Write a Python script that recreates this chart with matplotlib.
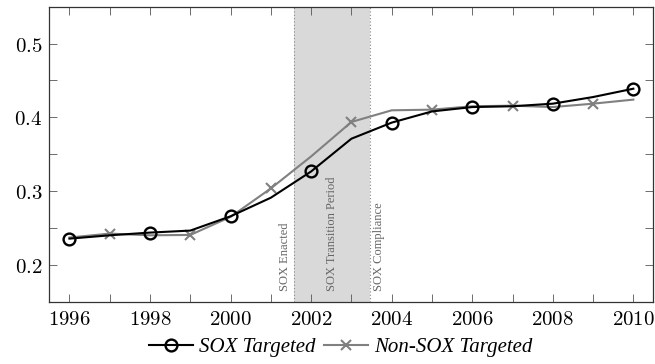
import matplotlib
matplotlib.use("Agg")
import matplotlib.pyplot as plt
from matplotlib.ticker import MultipleLocator, FuncFormatter

years = [1996, 1997, 1998, 1999, 2000, 2001, 2002, 2003, 2004, 2005, 2006, 2007, 2008, 2009, 2010]
sox_targeted = [0.2355, 0.240, 0.2437, 0.2464, 0.2658, 0.291, 0.3266, 0.371, 0.3928, 0.408, 0.4139, 0.415, 0.4185, 0.4275, 0.4388]
non_sox_targeted = [0.237, 0.2423, 0.240, 0.2405, 0.265, 0.3036, 0.347, 0.3937, 0.4095, 0.4104, 0.415, 0.4158, 0.4139, 0.4185, 0.424]
period_start = 2001.58
period_end = 2003.46
labels = ["SOX Enacted", "SOX Transition Period", "SOX Compliance"]

plt.rcParams['mathtext.fontset'] = 'cm'
serif = ['Liberation Serif', 'DejaVu Serif']

fig = plt.figure(figsize=(6.55, 3.64), dpi=100)
ax = fig.add_axes([0.0753, 0.1712, 0.9977 - 0.0753, 0.9816 - 0.1712])

ax.axvspan(period_start, period_end, color='#d9d9d9', lw=0, zorder=0)
ax.axvline(period_start, color='#888888', lw=0.8, ls=(0, (1, 2)), zorder=1)
ax.axvline(period_end, color='#888888', lw=0.8, ls=(0, (1, 2)), zorder=1)

even_idx = [i for i, y in enumerate(years) if y % 2 == 0]
odd_idx = [i for i, y in enumerate(years) if y % 2 == 1]

ax.plot(years, non_sox_targeted, color='#808080', lw=1.5, marker='x',
        markevery=odd_idx, markersize=7, mew=1.5, zorder=3, label='Non-SOX Targeted')
ax.plot(years, sox_targeted, color='black', lw=1.5, marker='o',
        markevery=even_idx, markersize=8.5, mew=1.7, mfc='none', zorder=4, label='SOX Targeted')

ty = 0.165
tc = '#666666'
ax.text(period_start - 0.08, ty, labels[0], rotation=90, ha='right', va='bottom',
        fontsize=9, color=tc, family=serif)
ax.text((period_start + period_end) / 2, ty, labels[1], rotation=90, ha='center', va='bottom',
        fontsize=9, color=tc, family=serif)
ax.text(period_end + 0.08, ty, labels[2], rotation=90, ha='left', va='bottom',
        fontsize=9, color=tc, family=serif)

ax.set_xlim(1995.5, 2010.5)
ax.set_ylim(0.15, 0.55)
ax.xaxis.set_major_locator(MultipleLocator(2))
ax.xaxis.set_minor_locator(MultipleLocator(1))
ax.yaxis.set_major_locator(MultipleLocator(0.1))
ax.yaxis.set_minor_locator(MultipleLocator(0.05))
ax.xaxis.set_major_formatter(FuncFormatter(lambda v, p: r'$%d$' % round(v)))
ax.yaxis.set_major_formatter(FuncFormatter(lambda v, p: r'$%.1f$' % v))
ax.tick_params(which='both', direction='in', top=True, right=True, length=6, width=0.6, color='#555555')
ax.tick_params(which='major', labelsize=15, pad=5)
for s in ax.spines.values():
    s.set_linewidth(0.9)
    s.set_color('#333333')

h, l = ax.get_legend_handles_labels()
leg = fig.legend(h[::-1], l[::-1], loc='center', bbox_to_anchor=(0.52, 0.045), ncol=2,
                 frameon=False, handlelength=2.1, columnspacing=0.4, handletextpad=0.3,
                 prop={'family': serif, 'style': 'italic', 'size': 15})

fig.savefig('out.png', dpi=100)
